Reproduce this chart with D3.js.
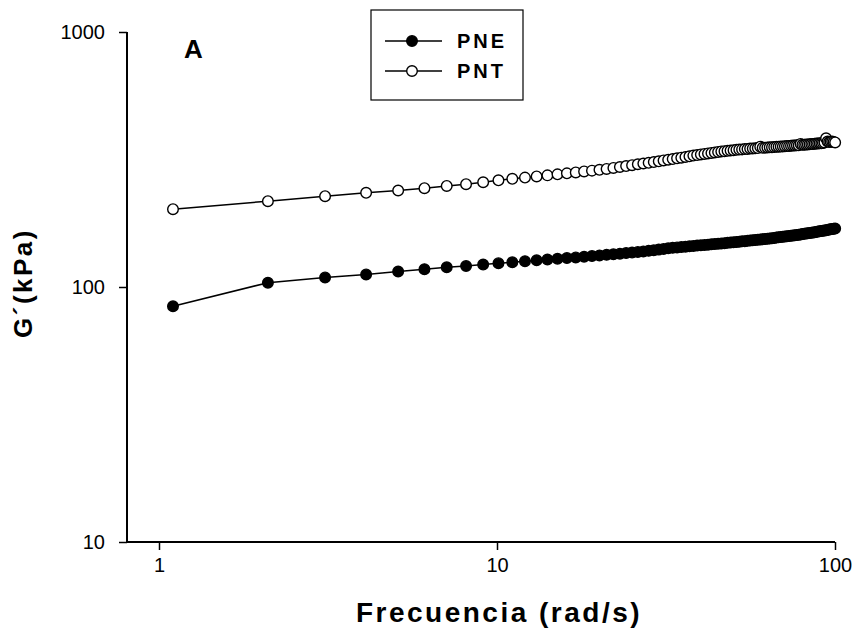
<!DOCTYPE html>
<html>
<head>
<meta charset="utf-8">
<script src="https://cdn.jsdelivr.net/npm/d3@7"></script>
<style>
  body { margin: 0; background: #fff; }
  svg { display: block; font-family: Arial, "Liberation Sans", sans-serif; }
</style>
</head>
<body>
<svg width="862" height="643"></svg>
<script>
// frequency (rad/s)
const freq = [1.1, 2.1, 3.1, 4.1, 5.1, 6.1, 7.1, 8.1, 9.1, 10.1,
  11.1, 12.1, 13.1, 14.1, 15.1, 16.1, 17.1, 18.1, 19.1, 20.1,
  21.1, 22.1, 23.1, 24.1, 25.1, 26.1, 27.1, 28.1, 29.1, 30.1,
  31.1, 32.1, 33.1, 34.1, 35.1, 36.1, 37.1, 38.1, 39.1, 40.1,
  41.1, 42.1, 43.1, 44.1, 45.1, 46.1, 47.1, 48.1, 49.1, 50.1,
  51.1, 52.1, 53.1, 54.1, 55.1, 56.1, 57.1, 58.1, 59.1, 60.1,
  61.1, 62.1, 63.1, 64.1, 65.1, 66.1, 67.1, 68.1, 69.1, 70.1,
  71.1, 72.1, 73.1, 74.1, 75.1, 76.1, 77.1, 78.1, 79.1, 80.1,
  81.1, 82.1, 83.1, 84.1, 85.1, 86.1, 87.1, 88.1, 89.1, 90.1,
  91.1, 92.1, 93.1, 94.1, 95.1, 96.1, 97.1, 98.1, 99.1, 100.1]

// G' (kPa)
const pne = [84, 104, 109, 112, 115, 117.5, 119.5, 120.8, 122.5, 124,
  125, 126.3, 127.3, 128.2, 129, 129.8, 130.6, 131.4, 132.2, 133,
  133.7, 134.4, 135.1, 135.8, 136.5, 137.2, 137.9, 138.6, 139.3, 140.2,
  141, 141.8, 142.4, 142.9, 143.4, 143.9, 144.4, 144.9, 145.3, 145.8,
  146.2, 146.6, 147, 147.4, 147.8, 148.2, 148.6, 149, 149.4, 149.8,
  150.2, 150.6, 151, 151.3, 151.7, 152.1, 152.4, 152.8, 153.2, 153.6,
  154, 154.3, 154.7, 155.1, 155.4, 155.8, 156.2, 156.6, 157, 157.3,
  157.7, 158.1, 158.5, 158.9, 159.2, 159.6, 160, 160.4, 160.8, 161.2,
  161.6, 162, 162.4, 162.8, 163.2, 163.7, 164.1, 164.5, 164.9, 165.3,
  165.7, 166.2, 166.6, 167, 167.5, 167.9, 168.3, 168.7, 169.1, 169.5]

const pnt = [202, 217, 227, 234, 239, 244, 249, 253, 257.5, 262,
  265.5, 268.5, 271.5, 274, 276.5, 279, 281.5, 284, 286, 288,
  290.5, 293, 295.5, 298, 300.5, 303, 305, 307, 309, 311,
  313.5, 315.5, 317.5, 319.5, 321.5, 323.5, 325.5, 327.5, 329, 331,
  332.5, 334, 335.5, 337, 338.5, 340, 341, 342, 343, 344,
  345, 346, 346.5, 347.5, 348, 349, 349.5, 350, 350.5, 355,
  351.5, 352, 352.5, 353, 353.5, 354, 354.5, 355, 355.5, 356,
  356.5, 357, 357.5, 358, 358.5, 359, 359.5, 360, 364, 361,
  361.5, 362, 362.5, 363, 363.5, 364, 364.5, 365, 365.5, 366,
  366.5, 367, 369, 383, 372, 370, 371, 372, 370, 369]

const xTicks = [1, 10, 100]
const yTicks = [10, 100, 1000]
const seriesNames = ['PNE', 'PNT']
const seriesFill = ['#000', '#fff']

const svg = d3.select('svg')

const axisX = 127, axisY = 542
const x = d3.scaleLog().domain([1, 100]).range([159, 835])
const y = d3.scaleLog().domain([10, 1000]).range([axisY, 32])

// axes
const yAxis = svg.append('g')
  .attr('transform', 'translate(' + axisX + ',0)')
  .call(d3.axisLeft(y).tickValues(yTicks).tickFormat(d3.format('d')).tickSize(8).tickSizeOuter(0).tickPadding(14))
yAxis.select('.domain').remove()
yAxis.append('line')
  .attr('y1', y(1000)).attr('y2', axisY)
  .attr('stroke', '#000').attr('stroke-width', 2)

const xAxis = svg.append('g')
  .attr('transform', 'translate(0,' + axisY + ')')
  .call(d3.axisBottom(x).tickValues(xTicks).tickFormat(d3.format('d')).tickSize(8).tickSizeOuter(0).tickPadding(8))
xAxis.select('.domain').remove()
xAxis.append('line')
  .attr('x1', axisX).attr('x2', x(100))
  .attr('stroke', '#000').attr('stroke-width', 2)

svg.selectAll('.tick line').attr('stroke', '#000').attr('stroke-width', 1.5)
svg.selectAll('.tick text')
  .attr('fill', '#000')
  .attr('font-size', 20)
  .attr('font-family', 'Arial, "Liberation Sans", sans-serif')

// axis titles
svg.append('text')
  .attr('x', (x(1) + x(100)) / 2 + 2)
  .attr('y', 622)
  .attr('text-anchor', 'middle')
  .attr('font-size', 28)
  .attr('font-weight', 'bold')
  .attr('letter-spacing', 2.5)
  .text('Frecuencia (rad/s)')

svg.append('text')
  .attr('transform', 'translate(32,283) rotate(-90)')
  .attr('text-anchor', 'middle')
  .attr('font-size', 26)
  .attr('font-weight', 'bold')
  .attr('letter-spacing', 2.5)
  .text('G´(kPa)')

svg.append('text')
  .attr('x', 184).attr('y', 58)
  .attr('font-size', 26)
  .attr('font-weight', 'bold')
  .text('A')

// series
const allSeries = [pne, pnt]
const line = d3.line().x((d, i) => x(freq[i])).y(d => y(d))

allSeries.forEach((vals, s) => {
  svg.append('path')
    .datum(vals)
    .attr('d', line)
    .attr('fill', 'none')
    .attr('stroke', '#000')
    .attr('stroke-width', 1.5)

  svg.append('g')
    .selectAll('circle')
    .data(vals)
    .enter().append('circle')
    .attr('cx', (d, i) => x(freq[i]))
    .attr('cy', d => y(d))
    .attr('r', 5.3)
    .attr('fill', seriesFill[s])
    .attr('stroke', '#000')
    .attr('stroke-width', 1.4)
})

// legend
const legend = svg.append('g')
legend.append('rect')
  .attr('x', 371).attr('y', 10)
  .attr('width', 152).attr('height', 90)
  .attr('fill', '#fff')
  .attr('stroke', '#000')
  .attr('stroke-width', 1.2)

const legendRow = legend.selectAll('g.row')
  .data(seriesNames)
  .enter().append('g')
  .attr('class', 'row')
  .attr('transform', (d, i) => 'translate(0,' + (41 + i * 30) + ')')

legendRow.append('line')
  .attr('x1', 385).attr('x2', 442)
  .attr('stroke', '#000').attr('stroke-width', 1.5)
legendRow.append('circle')
  .attr('cx', 412).attr('r', 5.3)
  .attr('fill', (d, i) => seriesFill[i])
  .attr('stroke', '#000').attr('stroke-width', 1.4)
legendRow.append('text')
  .attr('x', 457).attr('dy', '0.36em')
  .attr('font-size', 20)
  .attr('font-weight', 'bold')
  .attr('letter-spacing', 3)
  .text(d => d)
</script>
</body>
</html>
